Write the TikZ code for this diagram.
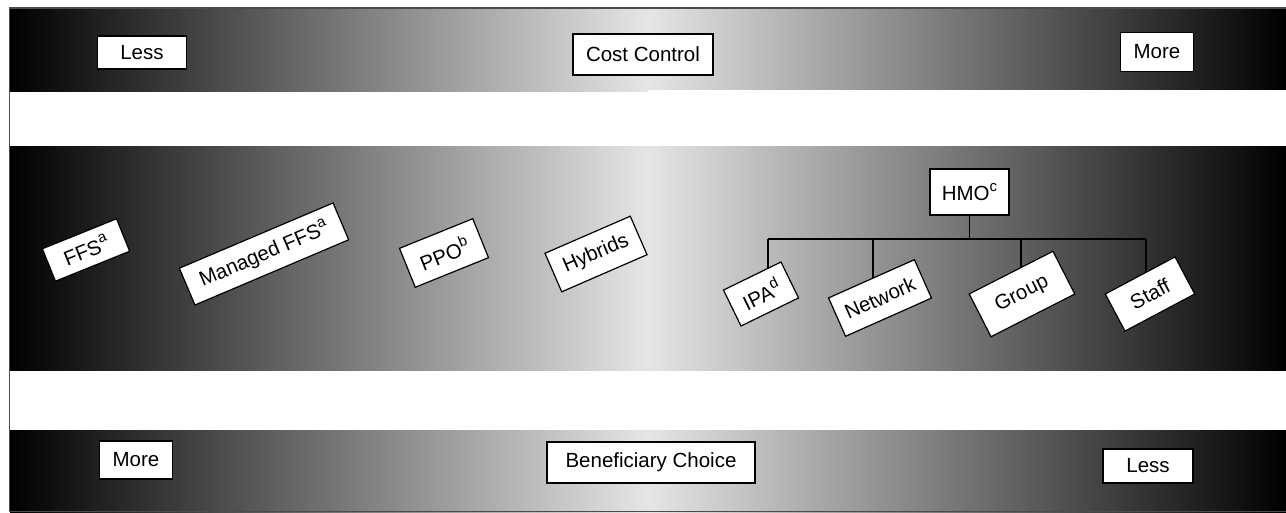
\documentclass[tikz,border=0pt]{standalone}
\usepackage{fontspec}
\setmainfont{Liberation Sans}
\pgfdeclarelayer{bands}
\pgfdeclarelayer{wires}
\pgfsetlayers{bands,wires,main}
\newcommand{\supx}[1]{\raisebox{0.42em}{\fontsize{15}{15}\selectfont #1}}
\tikzset{
  band/.style={left color=black, right color=black, middle color=black!10},
  boxnode/.style={draw=black, fill=white, line width=1.2pt, inner sep=0pt,
    font=\fontsize{20.5}{24}\selectfont},
  wire/.style={draw=black, line width=1.1pt},
}
\begin{document}
\begin{tikzpicture}[x=1pt,y=-1pt]
\useasboundingbox (0,0) rectangle (1286,513);
\begin{pgfonlayer}{bands}
  \shade[band] (10,9) rectangle (1286,92);
  \fill[white] (648,90) rectangle (1286,92.5);
  \shade[band] (10,147) rectangle (1286,370);
  \shade[band] (10,430) rectangle (1286,512);
  \draw[black!70, line width=1.3pt] (1286,8) -- (9.5,8) -- (9.5,511.6) -- (1286,511.6);
\end{pgfonlayer}

% top band
\node[boxnode, minimum width=89pt, minimum height=33pt] (lessT) at (142,52.5) {Less};
\node[boxnode, minimum width=140pt, minimum height=41pt] (cost) at (643,54.5) {Cost Control};
\node[boxnode, minimum width=73pt, minimum height=39pt] (moreT) at (1157,52) {More};

% bottom band
\node[boxnode, minimum width=73pt, minimum height=38pt] (moreB) at (136,460) {More};
\node[boxnode, minimum width=208pt, minimum height=41pt] (benef) at (651,462.5) {Beneficiary Choice};
\node[boxnode, minimum width=90pt, minimum height=34pt] (lessB) at (1148,466) {Less};

% middle band
\node[boxnode, minimum width=80pt, minimum height=35pt, rotate=22] (ffs) at (86,250) {FFS\supx{a}};
\node[boxnode, minimum width=167pt, minimum height=40pt, rotate=23] (mffs) at (264,254) {Managed FFS\supx{a}};
\node[boxnode, minimum width=79pt, minimum height=42pt, rotate=22] (ppo) at (444,253) {PPO\supx{b}};
\node[boxnode, minimum width=93pt, minimum height=42pt, rotate=23.5] (hyb) at (596,254) {Hybrids};
\node[boxnode, minimum width=79pt, minimum height=46pt] (hmo) at (969.5,192) {HMO\supx{c}};
\node[boxnode, minimum width=64pt, minimum height=40pt, rotate=26] (ipa) at (761,294) {IPA\supx{d}};
\node[boxnode, minimum width=94pt, minimum height=42pt, rotate=24] (net) at (880,298) {Network};
\node[boxnode, minimum width=94pt, minimum height=48pt, rotate=27] (grp) at (1022,294) {Group};
\node[boxnode, minimum width=79pt, minimum height=42pt, rotate=28] (staff) at (1150,294) {Staff};

\coordinate (busL) at (768,239);
\coordinate (busR) at (1146,239);
\coordinate (dropN) at (873,239);
\coordinate (dropG) at (1021,239);
\begin{pgfonlayer}{wires}
  \draw[wire] (hmo.south) -- (hmo.south |- busL);
  \draw[wire] (busL) -- (busR);
  \draw[wire] (busL) -- (busL |- ipa.center);
  \draw[wire] (dropN) -- (dropN |- net.center);
  \draw[wire] (dropG) -- (dropG |- grp.center);
  \draw[wire] (busR) -- (busR |- staff.center);
\end{pgfonlayer}
\end{tikzpicture}
\end{document}
